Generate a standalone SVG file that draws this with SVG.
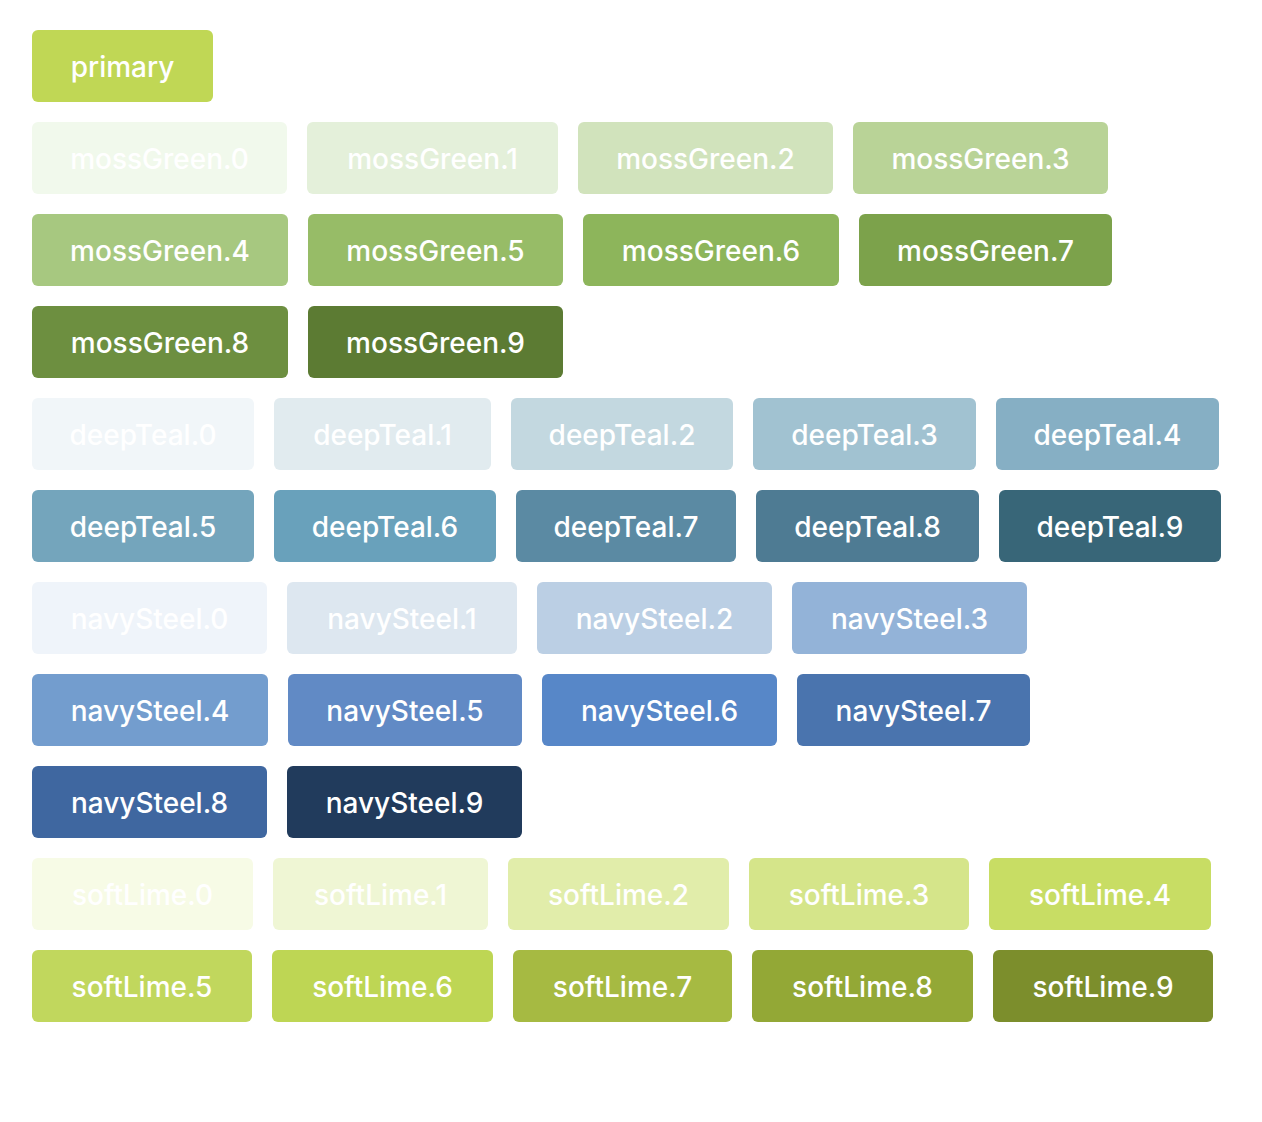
<svg xmlns="http://www.w3.org/2000/svg" width="1262" height="1122" viewBox="0 0 1262 1122">
<style>
.b{stroke:none}
.t{font-family:Inter,"Noto Sans","Liberation Sans",sans-serif;font-size:28px;font-weight:500;fill:#ffffff;text-anchor:middle}
</style>
<rect x="0" y="0" width="1262" height="1122" fill="#ffffff"/>
<g id="primary"><rect class="b" x="32" y="30" width="181" height="72" rx="6" fill="#c0d755"/><text class="t" x="122.5" y="77">primary</text></g>

<g id="mossGreen0"><rect class="b" x="32" y="122" width="255" height="72" rx="6" fill="#f1f9ec"/><text class="t" x="159.5" y="169">mossGreen.0</text></g>
<g id="mossGreen1"><rect class="b" x="307" y="122" width="251" height="72" rx="6" fill="#e4f0da"/><text class="t" x="432.5" y="169">mossGreen.1</text></g>
<g id="mossGreen2"><rect class="b" x="578" y="122" width="255" height="72" rx="6" fill="#d1e3bc"/><text class="t" x="705.5" y="169">mossGreen.2</text></g>
<g id="mossGreen3"><rect class="b" x="853" y="122" width="255" height="72" rx="6" fill="#b9d397"/><text class="t" x="980.5" y="169">mossGreen.3</text></g>
<g id="mossGreen4"><rect class="b" x="32" y="214" width="256" height="72" rx="6" fill="#a7c880"/><text class="t" x="160" y="261">mossGreen.4</text></g>
<g id="mossGreen5"><rect class="b" x="308" y="214" width="255" height="72" rx="6" fill="#97bc67"/><text class="t" x="435.5" y="261">mossGreen.5</text></g>
<g id="mossGreen6"><rect class="b" x="583" y="214" width="256" height="72" rx="6" fill="#8db55b"/><text class="t" x="711" y="261">mossGreen.6</text></g>
<g id="mossGreen7"><rect class="b" x="859" y="214" width="253" height="72" rx="6" fill="#7ca24b"/><text class="t" x="985.5" y="261">mossGreen.7</text></g>
<g id="mossGreen8"><rect class="b" x="32" y="306" width="256" height="72" rx="6" fill="#6d8f40"/><text class="t" x="160" y="353">mossGreen.8</text></g>
<g id="mossGreen9"><rect class="b" x="308" y="306" width="255" height="72" rx="6" fill="#5c7b33"/><text class="t" x="435.5" y="353">mossGreen.9</text></g>

<g id="deepTeal0"><rect class="b" x="32" y="398" width="222" height="72" rx="6" fill="#f1f6f9"/><text class="t" x="143" y="445">deepTeal.0</text></g>
<g id="deepTeal1"><rect class="b" x="274" y="398" width="217" height="72" rx="6" fill="#e1ebef"/><text class="t" x="382.5" y="445">deepTeal.1</text></g>
<g id="deepTeal2"><rect class="b" x="511" y="398" width="222" height="72" rx="6" fill="#c3d8e0"/><text class="t" x="622" y="445">deepTeal.2</text></g>
<g id="deepTeal3"><rect class="b" x="753" y="398" width="223" height="72" rx="6" fill="#a1c2d1"/><text class="t" x="864.5" y="445">deepTeal.3</text></g>
<g id="deepTeal4"><rect class="b" x="996" y="398" width="223" height="72" rx="6" fill="#86afc4"/><text class="t" x="1107.5" y="445">deepTeal.4</text></g>
<g id="deepTeal5"><rect class="b" x="32" y="490" width="222" height="72" rx="6" fill="#74a5bc"/><text class="t" x="143" y="537">deepTeal.5</text></g>
<g id="deepTeal6"><rect class="b" x="274" y="490" width="222" height="72" rx="6" fill="#69a1bb"/><text class="t" x="385" y="537">deepTeal.6</text></g>
<g id="deepTeal7"><rect class="b" x="516" y="490" width="220" height="72" rx="6" fill="#5b8aa3"/><text class="t" x="626" y="537">deepTeal.7</text></g>
<g id="deepTeal8"><rect class="b" x="756" y="490" width="223" height="72" rx="6" fill="#4e7b93"/><text class="t" x="867.5" y="537">deepTeal.8</text></g>
<g id="deepTeal9"><rect class="b" x="999" y="490" width="222" height="72" rx="6" fill="#386678"/><text class="t" x="1110" y="537">deepTeal.9</text></g>

<g id="navySteel0"><rect class="b" x="32" y="582" width="235" height="72" rx="6" fill="#eff4fa"/><text class="t" x="149.5" y="629">navySteel.0</text></g>
<g id="navySteel1"><rect class="b" x="287" y="582" width="230" height="72" rx="6" fill="#dde7f0"/><text class="t" x="402" y="629">navySteel.1</text></g>
<g id="navySteel2"><rect class="b" x="537" y="582" width="235" height="72" rx="6" fill="#bbcfe4"/><text class="t" x="654.5" y="629">navySteel.2</text></g>
<g id="navySteel3"><rect class="b" x="792" y="582" width="235" height="72" rx="6" fill="#93b3d8"/><text class="t" x="909.5" y="629">navySteel.3</text></g>
<g id="navySteel4"><rect class="b" x="32" y="674" width="236" height="72" rx="6" fill="#739dce"/><text class="t" x="150" y="721">navySteel.4</text></g>
<g id="navySteel5"><rect class="b" x="288" y="674" width="234" height="72" rx="6" fill="#618ac5"/><text class="t" x="405" y="721">navySteel.5</text></g>
<g id="navySteel6"><rect class="b" x="542" y="674" width="235" height="72" rx="6" fill="#5787c8"/><text class="t" x="659.5" y="721">navySteel.6</text></g>
<g id="navySteel7"><rect class="b" x="797" y="674" width="233" height="72" rx="6" fill="#4a74ae"/><text class="t" x="913.5" y="721">navySteel.7</text></g>
<g id="navySteel8"><rect class="b" x="32" y="766" width="235" height="72" rx="6" fill="#3f67a0"/><text class="t" x="149.5" y="813">navySteel.8</text></g>
<g id="navySteel9"><rect class="b" x="287" y="766" width="235" height="72" rx="6" fill="#213b5c"/><text class="t" x="404.5" y="813">navySteel.9</text></g>

<g id="softLime0"><rect class="b" x="32" y="858" width="221" height="72" rx="6" fill="#f7fbe6"/><text class="t" x="142.5" y="905">softLime.0</text></g>
<g id="softLime1"><rect class="b" x="273" y="858" width="215" height="72" rx="6" fill="#eff6d4"/><text class="t" x="380.5" y="905">softLime.1</text></g>
<g id="softLime2"><rect class="b" x="508" y="858" width="221" height="72" rx="6" fill="#e1edaa"/><text class="t" x="618.5" y="905">softLime.2</text></g>
<g id="softLime3"><rect class="b" x="749" y="858" width="220" height="72" rx="6" fill="#d5e58a"/><text class="t" x="859" y="905">softLime.3</text></g>
<g id="softLime4"><rect class="b" x="989" y="858" width="222" height="72" rx="6" fill="#c8dd64"/><text class="t" x="1100" y="905">softLime.4</text></g>
<g id="softLime5"><rect class="b" x="32" y="950" width="220" height="72" rx="6" fill="#c1d75d"/><text class="t" x="142" y="997">softLime.5</text></g>
<g id="softLime6"><rect class="b" x="272" y="950" width="221" height="72" rx="6" fill="#bed654"/><text class="t" x="382.5" y="997">softLime.6</text></g>
<g id="softLime7"><rect class="b" x="513" y="950" width="219" height="72" rx="6" fill="#a6ba42"/><text class="t" x="622.5" y="997">softLime.7</text></g>
<g id="softLime8"><rect class="b" x="752" y="950" width="221" height="72" rx="6" fill="#93a836"/><text class="t" x="862.5" y="997">softLime.8</text></g>
<g id="softLime9"><rect class="b" x="993" y="950" width="220" height="72" rx="6" fill="#7c8e2c"/><text class="t" x="1103" y="997">softLime.9</text></g>
<g id="connectors"/>
</svg>
